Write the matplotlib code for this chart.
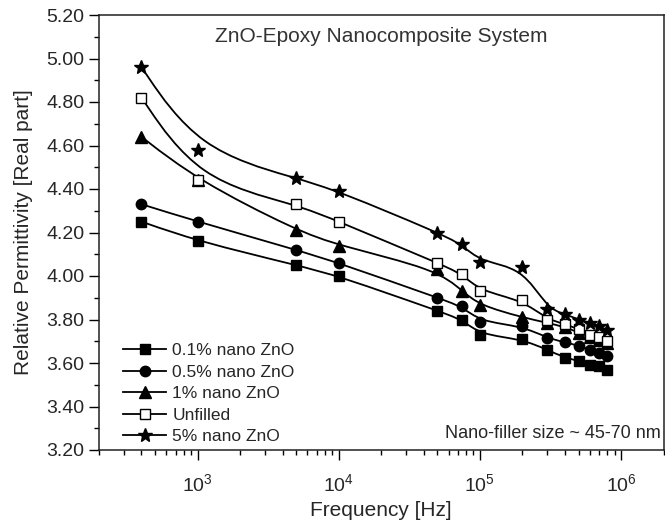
import numpy as np
import matplotlib
matplotlib.use("Agg")
import matplotlib.pyplot as plt
from matplotlib.path import Path
from matplotlib.patches import PathPatch
from matplotlib.lines import Line2D
from matplotlib.ticker import MultipleLocator, FormatStrFormatter, LogLocator

# ---------------- data ----------------
freq = [400, 1e3, 5e3, 1e4, 5e4, 7.5e4, 1e5, 2e5, 3e5, 4e5, 5e5, 6e5, 7e5, 8e5]
zno_01 = [4.25, 4.16, 4.05, 4.00, 3.84, 3.80, 3.73, 3.71, 3.66, 3.625, 3.61, 3.59, 3.585, 3.57]
zno_05 = [4.33, 4.25, 4.12, 4.06, 3.90, 3.86, 3.79, 3.77, 3.715, 3.695, 3.68, 3.66, 3.645, 3.63]
zno_1 = [4.64, 4.44, 4.21, 4.14, 4.03, 3.93, 3.865, 3.81, 3.785, 3.765, 3.74, 3.72, 3.705, 3.69]
unfilled = [4.82, 4.44, 4.33, 4.25, 4.06, 4.01, 3.93, 3.89, 3.80, 3.78, 3.755, 3.73, 3.72, 3.70]
zno_5 = [4.96, 4.58, 4.45, 4.39, 4.20, 4.145, 4.065, 4.04, 3.85, 3.825, 3.80, 3.785, 3.77, 3.75]

labels = ["0.1% nano ZnO", "0.5% nano ZnO", "1% nano ZnO", "Unfilled", "5% nano ZnO"]
series = [zno_01, zno_05, zno_1, unfilled, zno_5]
markers = ["s", "o", "^", "s", "*"]
msizes = [6.5, 7.5, 8, 7, 10.5]
faces = ["black", "black", "black", "white", "black"]

title_text = "ZnO-Epoxy Nanocomposite System"
note_text = "Nano-filler size ~ 45-70 nm"
xlabel = "Frequency [Hz]"
ylabel = "Relative Permittivity [Real part]"

# ---------------- style ----------------
TXT = "#262626"
plt.rcParams["font.family"] = ["Liberation Sans", "DejaVu Sans"]
plt.rcParams["mathtext.fontset"] = "custom"
plt.rcParams["mathtext.rm"] = "Liberation Sans"
plt.rcParams["mathtext.default"] = "regular"

W, H = 665, 523
fig = plt.figure(figsize=(W / 100, H / 100), dpi=100)
L, R, T, B = 99, 663.5, 15, 450
ax = fig.add_axes([L / W, 1 - B / H, (R - L) / W, (B - T) / H])


def bspline_path(xs, ys):
    """Uniform cubic B-spline (clamped) with the data points as control points
    in log-x space, expressed as Bezier segments."""
    lx = np.log10(np.asarray(xs, float))
    y = np.asarray(ys, float)
    P = np.column_stack([lx, y])
    P = np.vstack([P[0], P[0], P, P[-1], P[-1]])
    verts, codes = [], []
    for i in range(1, len(P) - 2):
        p0, p1, p2, p3 = P[i - 1], P[i], P[i + 1], P[i + 2]
        b0 = (p0 + 4 * p1 + p2) / 6
        b1 = (2 * p1 + p2) / 3
        b2 = (p1 + 2 * p2) / 3
        b3 = (p1 + 4 * p2 + p3) / 6
        if not verts:
            verts.append(b0)
            codes.append(Path.MOVETO)
        verts += [b1, b2, b3]
        codes += [Path.CURVE4] * 3
    v = np.array(verts)
    v[:, 0] = 10 ** v[:, 0]
    return Path(v, codes)


ax.set_xscale("log")
for ys, lab, mk, ms, fc in zip(series, labels, markers, msizes, faces):
    patch = PathPatch(bspline_path(freq, ys), facecolor="none", edgecolor="black",
                      lw=1.3, zorder=2)
    ax.add_patch(patch)
    ax.plot(freq, ys, linestyle="none", marker=mk, ms=ms, mfc=fc, mec="black",
            mew=1.0, zorder=3)

ax.set_xlim(200, 2e6)
ax.set_ylim(3.20, 5.20)

ax.yaxis.set_major_locator(MultipleLocator(0.2))
ax.yaxis.set_minor_locator(MultipleLocator(0.1))
ax.yaxis.set_major_formatter(FormatStrFormatter("%.2f"))
ax.xaxis.set_major_locator(LogLocator(base=10, numticks=10))
ax.xaxis.set_minor_locator(LogLocator(base=10, subs=np.arange(2, 10), numticks=20))

ax.tick_params(which="major", direction="out", length=7, width=1.0, labelsize=14,
               colors="black", labelcolor=TXT)
ax.tick_params(which="minor", direction="out", length=3.5, width=1.0, colors="black")
ax.tick_params(axis="x", which="major", pad=10)
ax.tick_params(axis="y", which="major", pad=3.5)
ax.tick_params(top=False, right=False, which="both")
for s in ax.spines.values():
    s.set_linewidth(1.1)
    s.set_color("#222222")

ax.set_xlabel(xlabel, fontsize=15, color=TXT)
ax.set_ylabel(ylabel, fontsize=15, color=TXT)
ax.xaxis.set_label_coords(0.5, -(510 - B) / (B - T))
ax.yaxis.set_label_coords((24 - L) / (R - L), 0.5)
ax.xaxis.label.set_va("center")
ax.yaxis.label.set_va("center")

ax.text(0.5, 1 - (37 - T) / (B - T), title_text, transform=ax.transAxes,
        ha="center", va="center", fontsize=15, color="#333333")
ax.text(1 - (R - 661) / (R - L), 1 - (433 - T) / (B - T), note_text,
        transform=ax.transAxes, ha="right", va="center", fontsize=13, color=TXT)

handles = [Line2D([], [], color="black", lw=1.3, marker=mk, ms=ms, mfc=fc, mec="black")
           for mk, ms, fc in zip(markers, msizes, faces)]
leg = ax.legend(handles, labels, loc="upper left",
                bbox_to_anchor=(123 / W, 1 - 343 / H), bbox_transform=fig.transFigure,
                frameon=False, fontsize=12.5, handlelength=2.5, handletextpad=0.35,
                labelspacing=0.37, borderpad=0, borderaxespad=0, numpoints=1)
for t in leg.get_texts():
    t.set_color(TXT)

fig.savefig("out.png", dpi=100)
